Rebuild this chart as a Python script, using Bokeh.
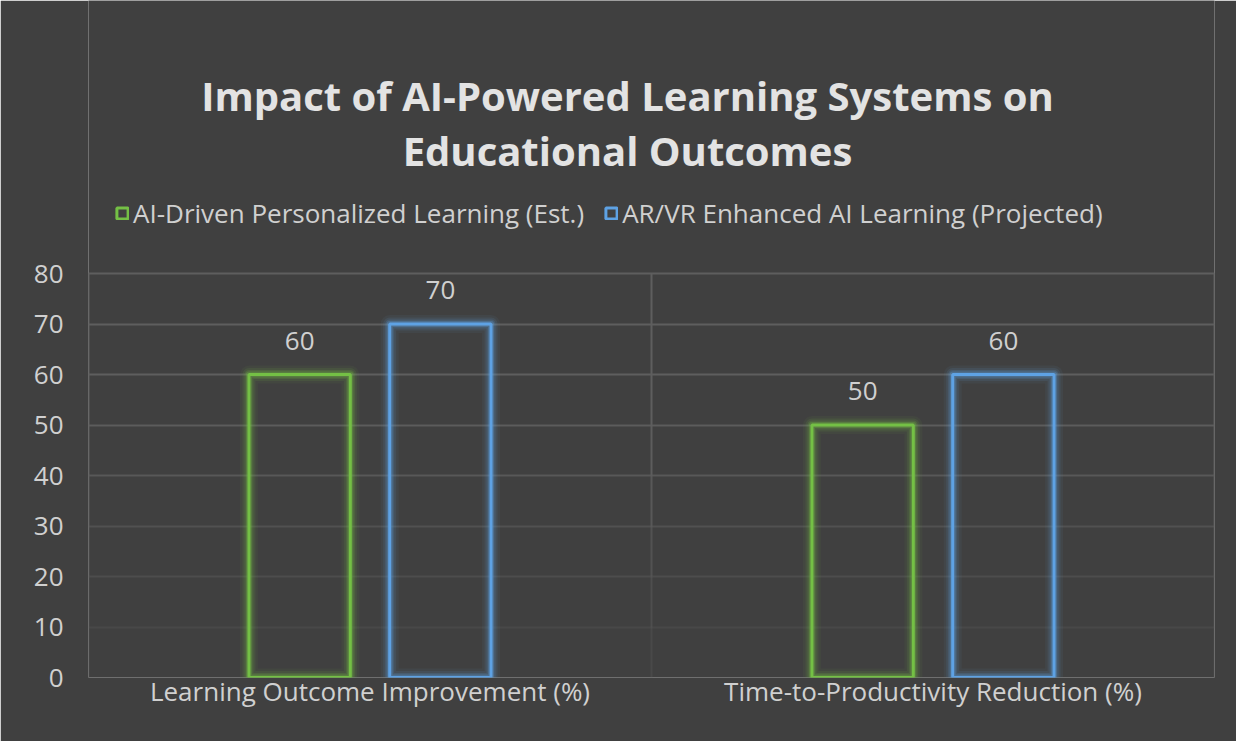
from bokeh.plotting import figure
from bokeh.models import (Range1d, FixedTicker, Grid, Label, Legend, LegendItem,
                          ColumnDataSource)
from bokeh.core.properties import value
from bokeh.embed import file_html
from bokeh.resources import INLINE

# ---- data ----
categories = ["Learning Outcome Improvement (%)", "Time-to-Productivity Reduction (%)"]
series_names = ["AI-Driven Personalized Learning (Est.)", "AR/VR Enhanced AI Learning (Projected)"]
ai_driven = [60, 50]
arvr = [70, 60]
y_ticks = [0, 10, 20, 30, 40, 50, 60, 70, 80]
title_lines = ["Impact of AI-Powered Learning Systems on", "Educational Outcomes"]

BG = "#404040"
TXT = "#d0d0d0"
GRID = "#5e5e5e"
GREEN = "#74c045"
BLUE = "#5ea2e4"
FONT = "Open Sans"
FS = "26px"

W, H = 1236, 741
FRAME_TOP, FRAME_BOTTOM, FRAME_LEFT, FRAME_RIGHT = 0, 677, 88, 1214
Y_MAX_AXIS = 80
px_per_unit = 404 / Y_MAX_AXIS
y_top = Y_MAX_AXIS + (273 - FRAME_TOP) / px_per_unit
px_per_cat = (FRAME_RIGHT - FRAME_LEFT) / len(categories)

p = figure(width=W, height=H, output_backend="svg", toolbar_location=None, title=None,
           x_range=Range1d(0, len(categories)), y_range=Range1d(0, y_top),
           min_border_left=FRAME_LEFT, min_border_right=W - FRAME_RIGHT,
           min_border_top=FRAME_TOP, min_border_bottom=H - FRAME_BOTTOM)
p.background_fill_color = BG
p.border_fill_color = BG
p.outline_line_color = None

# axes
p.yaxis.ticker = FixedTicker(ticks=y_ticks)
p.xaxis.ticker = FixedTicker(ticks=[i + 0.5 for i in range(len(categories))])
p.xaxis.major_label_overrides = {i + 0.5: c for i, c in enumerate(categories)}
for ax in (p.xaxis[0], p.yaxis[0]):
    ax.axis_line_color = None
    ax.major_tick_line_color = None
    ax.minor_tick_line_color = None
    ax.major_tick_out = 0
    ax.major_tick_in = 0
    ax.minor_tick_out = 0
    ax.major_label_text_color = TXT
    ax.major_label_text_font = FONT
    ax.major_label_text_font_size = FS
p.yaxis.major_label_standoff = 25
p.xaxis.major_label_standoff = -5

# grids: horizontal lines fade towards the bottom
p.xgrid.visible = False
p.ygrid.visible = False
alphas = {80: 1.0, 70: 1.0, 60: 1.0, 50: 0.95, 40: 0.8, 30: 0.6, 20: 0.45, 10: 0.3, 0: 0.0}
for t in y_ticks:
    g = Grid(dimension=1, ticker=FixedTicker(ticks=[t]), grid_line_color=GRID,
             grid_line_width=2, grid_line_alpha=alphas[t])
    p.add_layout(g)

# vertical category separators, limited to the value axis range, fading downward
sep_x = list(range(len(categories) + 1))
for lo, hi in zip(y_ticks[:-1], y_ticks[1:]):
    p.segment(x0=sep_x, x1=sep_x, y0=[lo] * len(sep_x), y1=[hi] * len(sep_x),
              line_color=GRID, line_width=2, line_alpha=alphas[hi] * 0.95 + 0.05)

# bars
xs = list(range(len(categories)))
src_g = ColumnDataSource(dict(x=[i + 0.5 - 0.125 for i in xs], top=ai_driven,
                              lab=[str(v) for v in ai_driven]))
src_b = ColumnDataSource(dict(x=[i + 0.5 + 0.125 for i in xs], top=arvr,
                              lab=[str(v) for v in arvr]))
BW = 0.18
renderers = []
for src, col in ((src_g, GREEN), (src_b, BLUE)):
    for lw, a in ((18, 0.06), (13, 0.10), (9, 0.16), (6, 0.28)):
        p.vbar(x="x", top="top", width=BW, bottom=0, source=src, fill_color=None,
               line_color=col, line_width=lw, line_alpha=a, line_join="round")
    r = p.vbar(x="x", top="top", width=BW, bottom=0, source=src, fill_color=None,
               line_color=col, line_width=3)
    renderers.append(r)
    p.text(x="x", y="top", text="lab", source=src, y_offset=-34,
           text_align="center", text_baseline="middle", text_color=TXT,
           text_font=value(FONT), text_font_size=FS)

# legend (inside the extended frame, above the plotting area)
legend = Legend(items=[LegendItem(label=series_names[0], renderers=[renderers[0]]),
                       LegendItem(label=series_names[1], renderers=[renderers[1]])],
                orientation="horizontal", location=(27, FRAME_BOTTOM - 231),
                background_fill_alpha=0, border_line_color=None,
                label_text_color=TXT, label_text_font=FONT,
                label_text_font_size=FS, glyph_width=14, glyph_height=14,
                label_standoff=4, spacing=20, padding=0, margin=0)
p.add_layout(legend, "center")

# title (two lines, placed in the empty upper part of the frame)
title_cx = (627 - FRAME_LEFT) / px_per_cat
for txt, yy in zip(title_lines, (95, 150)):
    p.add_layout(Label(x=title_cx, y=(FRAME_BOTTOM - yy) / px_per_unit,
                       text=txt, text_align="center", text_baseline="middle",
                       text_color="#e3e3e3", text_font=FONT, text_font_style="bold",
                       text_font_size="40px"))

open("out.html", "w").write(file_html(p, INLINE))
